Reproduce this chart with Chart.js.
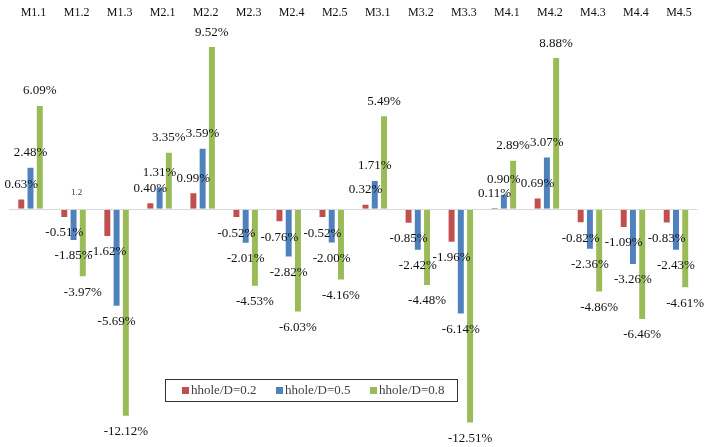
<!DOCTYPE html>
<html>
<head>
<meta charset="utf-8">
<style>
  html, body { margin: 0; padding: 0; background: #fff; }
  #wrap { width: 704px; height: 447px; position: relative; }
</style>
<script src="https://cdn.jsdelivr.net/npm/chart.js@4/dist/chart.umd.min.js"></script>
</head>
<body>
<div id="wrap"><canvas id="c" width="704" height="447"></canvas></div>
<script>
// Categories (model cases) shown along the top
const categories = ['M1.1','M1.2','M1.3','M2.1','M2.2','M2.3','M2.4','M2.5','M3.1','M3.2','M3.3','M4.1','M4.2','M4.3','M4.4','M4.5'];

// Relative change (%) for each hole-depth ratio
const seriesLabels = ['hhole/D=0.2', 'hhole/D=0.5', 'hhole/D=0.8'];
const ratio02 = [0.63, -0.51, -1.62, 0.40, 0.99, -0.52, -0.76, -0.52, 0.32, -0.85, -1.96, 0.11, 0.69, -0.82, -1.09, -0.83];
const ratio05 = [2.48, -1.85, -5.69, 1.31, 3.59, -2.01, -2.82, -2.00, 1.71, -2.42, -6.14, 0.90, 3.07, -2.36, -3.26, -2.43];
const ratio08 = [6.09, -3.97, -12.12, 3.35, 9.52, -4.53, -6.03, -4.16, 5.49, -4.48, -12.51, 2.89, 8.88, -4.86, -6.46, -4.61];

// Small stray annotation beside the M1.2 group
const noteText = '1.2';
const noteCategory = 1;
const noteValue = 0.97;

const colors = ['#C0504D', '#4F81BD', '#9BBB59'];
const serif = '"Liberation Serif", "Times New Roman", serif';

// Category names across the top, value labels at the bar ends
const labelsPlugin = {
  id: 'labelsPlugin',
  afterDatasetsDraw(chart) {
    const ctx = chart.ctx;
    const xs = chart.scales.x, ys = chart.scales.y;
    ctx.save();
    ctx.textAlign = 'center';
    ctx.textBaseline = 'middle';

    ctx.font = '12px ' + serif;
    ctx.fillStyle = '#111';
    chart.data.labels.forEach((lab, i) => {
      ctx.fillText(lab, xs.getPixelForValue(i) + 3, 13);
    });

    ctx.font = '13px ' + serif;
    chart.data.datasets.forEach((ds, di) => {
      const meta = chart.getDatasetMeta(di);
      meta.data.forEach((bar, i) => {
        const v = ds.data[i];
        const y = v >= 0 ? bar.y - 14 : bar.y + 15;
        ctx.fillText(v.toFixed(2) + '%', bar.x, y);
      });
    });

    ctx.font = '9px ' + serif;
    ctx.fillStyle = '#333';
    ctx.fillText(noteText, xs.getPixelForValue(noteCategory) + 3, ys.getPixelForValue(noteValue));
    ctx.restore();
  }
};

// Boxed legend placed inside the plot, lower middle
const boxLegend = {
  id: 'boxLegend',
  afterDraw(chart) {
    const ctx = chart.ctx;
    const left = 165.5, top = 379.5, w = 292, h = 22;
    ctx.save();
    ctx.fillStyle = '#fff';
    ctx.fillRect(left, top, w, h);
    ctx.strokeStyle = '#333';
    ctx.lineWidth = 1;
    ctx.strokeRect(left, top, w, h);
    ctx.font = '13px ' + serif;
    ctx.textBaseline = 'middle';
    ctx.textAlign = 'left';
    chart.data.datasets.forEach((ds, i) => {
      const x = 182 + i * 94;
      const cy = top + h / 2;
      ctx.fillStyle = ds.backgroundColor;
      ctx.fillRect(x, cy - 3.5, 7, 7);
      ctx.fillStyle = '#404040';
      ctx.fillText(ds.label, x + 9, cy + 0.5);
    });
    ctx.restore();
  }
};

const makeSet = (label, data, color) => ({
  label, data,
  backgroundColor: color,
  borderColor: 'rgba(255,255,255,0.55)',
  borderWidth: 1,
  categoryPercentage: 0.645,
  barPercentage: 0.86
});

new Chart(document.getElementById('c'), {
  type: 'bar',
  data: {
    labels: categories,
    datasets: [
      makeSet(seriesLabels[0], ratio02, colors[0]),
      makeSet(seriesLabels[1], ratio05, colors[1]),
      makeSet(seriesLabels[2], ratio08, colors[2])
    ]
  },
  options: {
    responsive: false,
    animation: false,
    layout: { padding: { left: 9, right: 6.5, top: 37.9, bottom: 18.5 } },
    plugins: {
      legend: { display: false },
      tooltip: { enabled: false }
    },
    scales: {
      x: { display: false },
      y: {
        min: -12.8,
        max: 10,
        ticks: { display: false, stepSize: 1 },
        border: { display: false },
        grid: {
          drawTicks: false,
          color: (c) => (c.tick && c.tick.value === 0 ? '#D9D9D9' : 'rgba(0,0,0,0)'),
          lineWidth: 1
        }
      }
    }
  },
  plugins: [labelsPlugin, boxLegend]
});
</script>
</body>
</html>
